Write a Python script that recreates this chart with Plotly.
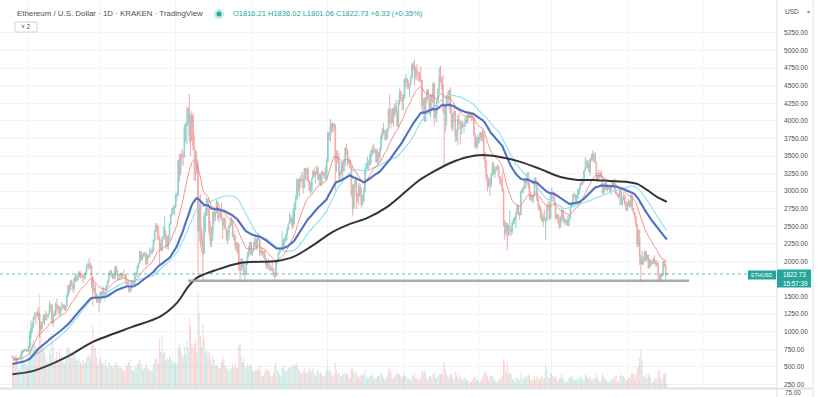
import plotly.graph_objects as go
import pandas as pd

# ---------------- data (ETH/USD daily, Kraken) ----------------
START = "2020-12-20"

# closes before the visible window (used only to warm up the moving averages)
warmup_closes = [
    353,346,347,353,353,341,341,351,365,370,375,387,381,379,377,366,368,377,379,368,392,413,409,412,406,393,404,388,386,382,386,
    396,383,387,402,415,455,435,454,444,449,462,462,475,461,448,460,481,479,471,509,549,560,608,604,569,518,517,538,575,614,
    587,598,616,570,596,601,592,568,573,559,545,568,590,586,589,636,642,654,659,
]

closes = [
    639,610,635,585,612,625,635,683,731,732,752,737,
    730,775,978,1041,1100,1208,1225,1224,1282,1262,1088,1045,1130,1218,1171,1233,1230,1257,1377,1382,1121,1236,1233,1392,1324,1357,1253,1332,1382,1377,1314,
    1369,1515,1660,1594,1719,1677,1614,1751,1769,1744,1783,1843,1814,1805,1779,1781,1848,1937,1960,1919,1935,1781,1570,1626,1475,1446,1459,1416,
    1565,1492,1575,1541,1533,1655,1724,1834,1869,1795,1825,1772,1924,1854,1791,1806,1823,1782,1817,1812,1782,1681,1669,1581,1587,1700,1716,1692,1818,1846,1918,
    1977,2143,2028,2093,2107,2114,1964,2079,2071,2136,2157,2139,2300,2432,2514,2423,2317,2235,2171,2332,2357,2403,2363,2212,2316,2534,2663,2746,2757,2772,
    2945,2950,3431,3253,3522,3490,3484,3903,3928,3952,4168,3785,3715,4079,3641,3587,3282,3374,2430,2783,2430,2295,2109,2643,2706,2888,2736,2419,2279,2387,2706,
    2634,2708,2855,2689,2630,2715,2592,2517,2608,2472,2353,2372,2508,2537,2585,2365,2373,2225,2160,2250,1891,1875,1970,1990,1812,1829,1978,2080,2160,2275,
    2113,2150,2226,2322,2198,2325,2315,2118,2146,2112,2141,2039,1940,1994,1917,1880,1898,1895,1820,1787,1995,2026,2122,2187,2190,2232,2300,2300,2385,2462,2535,
    2557,2606,2508,2725,2827,2890,3157,3013,3163,3142,3164,3048,3322,3265,3310,3146,3011,3017,3182,3286,3226,3243,3324,3172,3228,3100,3274,3243,3224,3228,3433,
    3834,3790,3940,3887,3952,3927,3429,3499,3427,3211,3270,3410,3286,3429,3614,3571,3398,3433,3329,2958,2764,3077,3155,2931,2925,3063,2934,2807,2853,3001,
    3307,3391,3418,3380,3518,3577,3587,3563,3576,3415,3542,3492,3606,3786,3864,3830,3848,3748,3878,4154,4057,3972,4170,4085,4217,4131,3924,4287,4414,4325,4288,
    4324,4586,4603,4537,4475,4518,4612,4805,4732,4636,4726,4668,4648,4624,4576,4214,4291,3995,4304,4437,4321,4103,4369,4272,4525,4043,4097,4295,4446,4631,
    4587,4519,4242,4100,4203,4358,4309,4435,4114,3909,4083,4133,3784,3862,4020,3962,3880,3961,3922,3941,4020,3982,4109,4045,4094,4063,4038,3798,3628,3713,3683,
    3769,3829,3762,3794,3550,3421,3197,3081,3157,3083,3239,3372,3246,3310,3331,3351,3212,3164,3096,3005,2558,2405,2540,2442,2460,2465,2421,2547,2597,2603,2688,
    2792,2680,2664,2990,3017,3058,3147,3124,3240,3074,2930,2919,2873,2931,3183,3125,2885,2780,2760,2620,2573,2641,2584,2593,2776,2775,2617,2920,
    2971,2948,2834,2617,2666,2554,2495,2577,2728,2608,2557,2567,2515,2590,2620,2773,2815,2945,2950,2858,2896,2970,3030,3110,3105,3145,3295,3332,3400,3385,3282,
    3457,3443,3520,3521,3412,3170,3233,3190,3262,3209,2980,3030,3120,3019,3043,3065,2990,3059,3102,3080,2987,2965,2934,2924,3006,2810,2888,2937,2819,2730,
    2825,2857,2780,2941,2748,2695,2636,2520,2244,2340,2072,1960,2014,2055,2148,2024,2090,1913,2018,1958,1975,2043,1972,1979,1943,1803,1726,1793,1812,1996,1942,
    1816.4,1822.73,
]

highs = [
    660,647,637,638,614,628,647,722,748,743,754,755,
    749,787,1010,1160,1136,1210,1280,1263,1300,1348,1266,1150,1140,1247,1250,1295,1268,1260,1440,1400,1385,1265,1300,1417,1475,1375,1365,1345,1430,1390,1390,
    1374,1540,1665,1680,1735,1744,1690,1780,1825,1825,1812,1870,1865,1826,1828,1817,1855,1958,1980,2040,1985,1950,1777,1708,1680,1555,1530,1468,
    1570,1570,1650,1623,1548,1665,1733,1840,1875,1870,1835,1840,1940,1930,1880,1815,1835,1843,1828,1880,1815,1815,1728,1740,1620,1710,1720,1733,1830,1860,1944,
    1990,2150,2145,2110,2128,2140,2130,2100,2095,2200,2167,2200,2315,2450,2545,2547,2497,2360,2300,2350,2495,2640,2450,2360,2380,2550,2680,2760,2790,2800,
    2970,2980,3450,3530,3540,3600,3560,3950,3980,4200,4200,4380,4090,4140,4100,3800,3580,3560,3440,2930,2950,2480,2380,2690,2750,2910,2890,2780,2570,2490,2720,
    2740,2740,2890,2860,2815,2745,2840,2620,2630,2620,2480,2445,2520,2600,2640,2590,2440,2380,2275,2280,2250,2040,2050,2040,2000,1890,1990,2130,2230,2280,
    2275,2160,2280,2390,2320,2350,2405,2320,2190,2190,2150,2165,2045,2010,2040,1965,1950,1990,1900,1850,2010,2035,2135,2200,2200,2430,2320,2345,2390,2470,2550,
    2700,2660,2630,2760,2840,2950,3180,3185,3185,3230,3275,3230,3330,3330,3330,3340,3160,3130,3190,3300,3340,3280,3370,3360,3250,3250,3290,3290,3275,3350,3470,
    3840,3840,4025,3970,3985,3970,3950,3580,3580,3540,3300,3420,3410,3460,3620,3680,3590,3480,3445,3360,3100,3100,3175,3150,2970,3120,3100,3050,2950,3050,
    3340,3400,3490,3440,3540,3600,3650,3680,3620,3610,3590,3560,3620,3820,3900,3970,3870,3890,3890,4180,4375,4170,4180,4185,4240,4300,4160,4300,4460,4430,4375,
    4390,4600,4670,4610,4580,4540,4640,4825,4840,4870,4780,4810,4705,4700,4775,4580,4330,4340,4340,4440,4460,4355,4390,4375,4550,4550,4180,4300,4460,4760,
    4780,4630,4650,4240,4230,4370,4420,4440,4480,4220,4110,4180,4140,3880,4090,4110,4000,4000,4000,3960,4060,4060,4130,4140,4120,4110,4125,4040,3830,3770,3810,
    3770,3850,3840,3880,3850,3550,3440,3240,3200,3190,3260,3420,3410,3340,3360,3380,3360,3220,3200,3270,3040,2595,2560,2480,2520,2730,2500,2580,2620,2640,2710,
    2810,2800,2700,3010,3040,3070,3190,3180,3270,3280,3120,2990,2950,2950,3190,3200,3140,2920,2810,2780,2720,2680,2740,2620,2800,2860,2830,2940,
    3050,3000,2980,2850,2670,2680,2640,2640,2760,2720,2640,2600,2600,2650,2660,2800,2840,2960,2980,2960,2950,3040,3040,3125,3180,3160,3300,3485,3440,3440,3445,
    3470,3530,3580,3545,3555,3410,3255,3300,3270,3300,3220,3070,3130,3130,3060,3085,3090,3070,3125,3170,3180,3030,2980,2960,3030,3030,2920,2980,2950,2860,
    2840,2890,2870,2960,2950,2760,2700,2640,2530,2460,2450,2100,2150,2070,2150,2150,2110,2100,2040,2030,2000,2050,2090,2010,2020,1990,1820,1810,1825,2015,2020,
    1970,1836.02,
]

lows = [
    625,600,590,568,580,600,612,634,680,706,715,717,
    716,714,770,900,985,1060,1170,1100,1207,1170,917,1000,1030,1128,1090,1163,1160,1200,1250,1285,1110,1065,1230,1230,1280,1260,1220,1250,1300,1330,1305,
    1295,1360,1500,1540,1590,1642,1550,1580,1710,1710,1724,1770,1760,1765,1690,1730,1750,1820,1900,1880,1885,1620,1370,1545,1465,1410,1418,1290,
    1415,1460,1490,1505,1440,1525,1635,1690,1820,1775,1750,1740,1750,1840,1730,1745,1730,1760,1765,1805,1740,1670,1640,1570,1550,1588,1670,1667,1680,1775,1778,
    1908,1970,2010,2015,2060,2062,1935,1960,2040,2060,2105,2100,2135,2270,2420,2300,2300,1950,2150,2140,2320,2300,2180,2180,2160,2295,2520,2640,2680,2660,
    2765,2860,2930,3140,3220,3390,3360,3480,3700,3660,3930,3690,3500,3715,3580,3150,3150,3250,1740,2280,2200,2130,1730,2110,2410,2650,2640,2370,2200,2210,2300,
    2530,2570,2690,2580,2550,2610,2580,2320,2450,2450,2290,2240,2300,2480,2510,2340,2300,2180,2140,2110,1880,1705,1860,1900,1800,1720,1810,1950,2060,2100,
    2080,2080,2140,2210,2160,2175,2300,2080,2080,2090,2050,2020,1900,1880,1900,1860,1860,1860,1790,1720,1780,1960,1990,2110,2130,2170,2180,2200,2275,2300,2440,
    2540,2540,2450,2480,2530,2720,2880,2950,2920,3055,3130,2960,3040,3165,3140,3125,3000,2955,2980,3170,3200,3110,3240,3150,3090,3080,3060,3210,3170,3165,3160,
    3410,3720,3700,3830,3830,3850,3000,3270,3400,3150,3150,3230,3150,3280,3360,3510,3350,3380,3320,2920,2650,2740,3030,2750,2840,2800,2925,2760,2800,2845,
    2975,3260,3320,3290,3360,3400,3500,3540,3530,3410,3390,3380,3430,3580,3740,3800,3730,3710,3740,3850,3945,3890,3960,3910,4060,4100,3920,3900,4230,4270,4150,
    4150,4320,4480,4450,4450,4330,4515,4600,4715,4500,4590,4580,4560,4560,4540,4110,4090,3990,3985,4260,4290,4090,4050,4180,4260,3930,4030,3980,4270,4380,
    4540,4440,4120,3350,3850,3930,4240,4160,4100,3880,3840,3970,3700,3710,3650,3950,3670,3810,3900,3820,3920,3960,3960,4040,4040,4000,4010,3780,3620,3590,3620,
    3690,3720,3700,3720,3450,3330,3160,3000,3050,2930,3060,3220,3230,3190,3280,3300,3190,3100,3060,2990,2500,2310,2370,2160,2360,2380,2360,2390,2520,2530,2480,
    2670,2650,2590,2660,2970,2970,3030,3030,3100,3030,2870,2860,2850,2830,2920,3080,2860,2730,2710,2600,2560,2500,2580,2300,2560,2730,2580,2600,
    2860,2880,2790,2600,2600,2540,2460,2480,2580,2560,2520,2550,2510,2510,2500,2610,2780,2780,2920,2840,2830,2890,2940,3010,3080,3090,3120,3290,3330,3320,3260,
    3210,3430,3430,3400,3400,3150,3120,3180,3190,3200,2960,2950,3010,3010,3000,3020,2980,2950,3060,3040,2970,2950,2920,2890,2800,2800,2790,2870,2790,2720,
    2715,2790,2760,2770,2720,2670,2580,2500,2200,2210,1950,1700,1960,1950,2000,1990,2010,1900,1900,1920,1960,1965,1960,1930,1930,1720,1710,1730,1780,1800,1920,
    1750,1801.06,
]

volumes = [
    22,28,26,34,25,18,20,30,36,28,27,24,
    20,28,52,60,45,48,44,42,36,40,94,62,44,40,36,30,26,25,38,34,55,40,26,30,36,28,38,30,33,26,25,
    32,40,42,38,36,30,34,38,30,28,27,30,26,24,28,24,26,30,32,34,30,44,62,42,40,30,24,28,
    30,26,25,24,28,22,20,26,24,22,20,22,26,24,23,20,22,20,18,17,18,24,22,26,28,22,18,17,22,20,24,
    26,28,24,20,18,20,24,20,18,18,17,18,24,30,28,30,24,50,36,53,34,36,28,30,28,32,30,28,26,24,
    26,24,40,45,38,34,30,42,34,48,40,70,62,44,40,44,48,36,95,75,52,40,65,50,36,38,34,36,30,24,32,
    28,22,22,24,20,20,26,32,28,22,20,18,20,18,20,24,20,26,20,20,42,45,32,26,30,22,20,24,22,24,
    24,18,16,18,18,20,18,22,16,12,12,16,20,18,18,16,12,12,16,22,26,18,16,14,12,20,22,18,16,18,20,
    20,21,22,21,24,22,26,20,18,16,14,18,20,16,14,18,20,16,18,20,14,12,16,18,14,16,14,12,12,14,18,
    22,16,18,14,12,14,25,18,14,16,12,12,14,14,16,14,14,10,10,19,20,16,14,16,12,10,12,14,12,14,
    18,12,10,10,12,14,12,10,9,10,12,12,12,16,14,10,8,10,12,18,20,16,10,9,12,14,18,14,14,12,10,
    12,14,12,10,10,8,8,14,12,16,10,10,8,8,10,18,16,18,14,10,8,12,12,10,14,16,10,10,12,14,
    14,14,14,26,18,14,12,10,14,14,10,8,16,12,14,10,12,8,8,10,10,8,8,6,6,6,8,10,12,8,8,
    6,6,8,10,14,16,16,12,8,12,12,12,10,8,6,6,8,10,10,12,29,27,17,26,14,16,14,10,8,6,10,
    10,8,8,14,10,8,12,10,12,14,12,8,8,10,12,8,12,10,8,10,12,10,10,25,19,10,10,16,
    14,12,10,12,8,8,10,10,14,10,8,6,6,8,10,12,10,12,8,8,8,10,10,12,10,8,10,14,12,10,10,
    12,8,8,10,10,14,10,8,6,8,14,12,10,8,6,6,8,8,8,10,12,12,6,6,12,14,12,12,10,8,
    8,10,10,14,16,14,10,14,20,22,30,38,29,12,10,14,10,14,12,10,6,6,10,8,10,16,18,10,8,14,14,
    16,4,
]

# 200-period EMA
ema200_dates = [
    "2020-12-20","2021-01-06","2021-02-02","2021-02-23","2021-03-27","2021-04-18","2021-05-02","2021-05-11",
    "2021-05-18","2021-06-03","2021-06-22","2021-07-22","2021-08-04","2021-08-18","2021-09-05","2021-09-19",
    "2021-10-03","2021-10-19","2021-10-29","2021-11-12","2021-11-25","2021-12-09","2021-12-23","2022-01-04",
    "2022-01-18","2022-02-03","2022-02-19","2022-03-08","2022-03-22","2022-04-04","2022-04-17","2022-05-01",
    "2022-05-09","2022-05-17","2022-05-25","2022-06-02",
]
ema200_values = [
    395,444,643,856,1069,1211,1411,1638,
    1766,1880,1979,2008,2065,2207,2420,2534,
    2619,2776,2918,3131,3273,3401,3487,3515,
    3487,3420,3320,3202,3160,3160,3145,3131,
    3103,3017,2918,2847,
]

price_ticks = [250,500,750,1000,1250,1500,2000,2250,2500,2750,3000,3250,3500,3750,4000,4250,4500,4750,5000,5250]
month_grid = ["2021-01-01","2021-03-01","2021-05-01","2021-07-01","2021-09-01","2021-11-01",
              "2022-01-01","2022-03-01","2022-05-01","2022-07-01"]
last_price = 1822.73
support_level = 1725
support_span = ["2021-05-11", "2022-06-20"]
title_text = "Ethereum / U.S. Dollar · 1D · KRAKEN · TradingView"
ohlc_text = "O1816.21 H1836.02 L1801.06 C1822.73 +6.33 (+0.35%)"

# ---------------- build ----------------
n = len(closes)
assert len(highs) == n and len(lows) == n and len(volumes) == n, (n, len(highs), len(lows), len(volumes))
dates = pd.date_range(START, periods=n, freq="D")
opens = [warmup_closes[-1]] + closes[:-1]
hi = [max(h, o, c) for h, o, c in zip(highs, opens, closes)]
lo = [min(l, o, c) for l, o, c in zip(lows, opens, closes)]

allc = pd.Series(warmup_closes + closes, dtype=float)
ema20 = allc.ewm(span=20, adjust=False).mean().iloc[-n:].values
ema50 = allc.ewm(span=50, adjust=False).mean().iloc[-n:].values
sma50 = allc.rolling(50).mean().iloc[-n:].values

UP = "38,166,154"
DN = "239,83,80"
vol_colors = [f"rgba({UP},0.26)" if c >= o else f"rgba({DN},0.28)" for o, c in zip(opens, closes)]

W, H = 819, 397
PW, PH = 777, 388   # plot area (pane) size in px

def px(x):
    return x / PW

def py(y):
    return 1 - y / PH

fig = go.Figure()
fig.add_trace(go.Bar(x=dates, y=volumes, yaxis="y2", marker=dict(color=vol_colors, line=dict(width=0)),
                     hoverinfo="skip", showlegend=False))
fig.add_trace(go.Candlestick(
    x=dates, open=opens, high=hi, low=lo, close=closes,
    increasing=dict(line=dict(color=f"rgb({UP})", width=1), fillcolor=f"rgb({UP})"),
    decreasing=dict(line=dict(color=f"rgb({DN})", width=1), fillcolor=f"rgb({DN})"),
    opacity=0.5, showlegend=False, hoverinfo="skip"))
fig.add_trace(go.Scatter(x=dates, y=sma50, mode="lines", line=dict(color="#93e4f0", width=1.2),
                         showlegend=False, hoverinfo="skip"))
fig.add_trace(go.Scatter(x=dates, y=ema20, mode="lines", line=dict(color="rgba(240,112,100,0.75)", width=1),
                         showlegend=False, hoverinfo="skip"))
fig.add_trace(go.Scatter(x=dates, y=ema50, mode="lines", line=dict(color="#5270c2", width=2.1),
                         showlegend=False, hoverinfo="skip"))
fig.add_trace(go.Scatter(x=pd.to_datetime(ema200_dates), y=ema200_values, mode="lines",
                         line=dict(color="#30333b", width=2, shape="spline", smoothing=0.8),
                         showlegend=False, hoverinfo="skip"))

TEAL = "#26a69a"
shapes = [
    dict(type="line", xref="x", yref="y", x0=support_span[0], x1=support_span[1],
         y0=support_level, y1=support_level, line=dict(color="rgba(160,162,170,0.9)", width=2.5)),
    dict(type="line", xref="paper", yref="y", x0=0, x1=1, y0=last_price, y1=last_price,
         line=dict(color="rgba(38,166,154,0.7)", width=1, dash="dot")),
    dict(type="line", xref="paper", yref="paper", x0=1, x1=1, y0=py(397), y1=1,
         line=dict(color="#e0e3eb", width=1)),
    dict(type="line", xref="paper", yref="paper", x0=px(813), x1=px(813), y0=py(397), y1=1,
         line=dict(color="#e0e3eb", width=1)),
    dict(type="line", xref="paper", yref="paper", x0=0, x1=px(813), y0=py(388.5), y1=py(388.5),
         line=dict(color="#dfe1e7", width=2)),
    dict(type="circle", xref="paper", yref="paper", x0=px(214), x1=px(224), y0=py(19), y1=py(9),
         fillcolor="rgba(38,166,154,0.25)", line=dict(width=0)),
    dict(type="circle", xref="paper", yref="paper", x0=px(216.5), x1=px(221.5), y0=py(16.5), y1=py(11.5),
         fillcolor=TEAL, line=dict(width=0)),
    dict(type="rect", xref="paper", yref="paper", x0=px(15), x1=px(37), y0=py(32), y1=py(22),
         fillcolor="white", line=dict(color="#d1d4dc", width=1)),
    dict(type="rect", xref="paper", yref="paper", x0=px(748), x1=px(776), y0=py(279.5), y1=py(270.5),
         fillcolor=TEAL, line=dict(width=0), layer="above"),
    dict(type="rect", xref="paper", yref="paper", x0=px(777), x1=px(811), y0=py(287.5), y1=py(269.5),
         fillcolor=TEAL, line=dict(width=0), layer="above"),
]

FONT = "Liberation Sans"
annotations = [
    dict(text=title_text, x=px(15), y=py(14), font=dict(size=7.9, color="#4a4d57", family=FONT)),
    dict(text=ohlc_text, x=px(231), y=py(14), font=dict(size=7.5, color=TEAL, family=FONT)),
    dict(text="˅ 2", x=px(18.5), y=py(27), font=dict(size=6.5, color="#4a4d57", family=FONT)),
    dict(text="USD", x=px(783), y=py(11), font=dict(size=6.5, color="#4a4d57", family=FONT)),
    dict(text="▾", x=px(805), y=py(11), font=dict(size=6, color="#888", family="DejaVu Sans")),
    dict(text="ETHUSD", x=px(762), y=py(275), xanchor="center", font=dict(size=5.2, color="white", family=FONT)),
    dict(text="1822.73", x=px(781), y=py(274.5), font=dict(size=6.3, color="white", family=FONT)),
    dict(text="15:57:39", x=px(781), y=py(283), font=dict(size=6.3, color="white", family=FONT)),
    dict(text="75.00", x=px(783), y=py(392), font=dict(size=6.3, color="#4a4d57", family=FONT)),
]
for a in annotations:
    a.setdefault("xanchor", "left")
    a.update(xref="paper", yref="paper", yanchor="middle", showarrow=False)

fig.update_layout(
    width=W, height=H,
    margin=dict(l=0, r=W - PW, t=0, b=H - PH),
    paper_bgcolor="white", plot_bgcolor="white",
    showlegend=False, hovermode=False, bargap=0.25,
    shapes=shapes, annotations=annotations,
    xaxis=dict(type="date", range=["2020-12-10", "2022-08-30"], rangeslider=dict(visible=False),
               tickvals=month_grid, showticklabels=False, showgrid=True, gridcolor="#f2f3f7",
               zeroline=False, showline=False, ticks=""),
    yaxis=dict(range=[200, 5719], side="right", tickvals=price_ticks,
               ticktext=[f"{v:.2f}" for v in price_ticks], showgrid=True, gridcolor="#f2f3f7",
               zeroline=False, showline=False, ticks="", ticklabelstandoff=6,
               tickfont=dict(size=6.6, color="#4a4d57", family=FONT)),
    yaxis2=dict(range=[0, PH], overlaying="y", visible=False, fixedrange=True),
)

fig.write_html("out.html", config={"displayModeBar": False, "staticPlot": True},
               post_script="document.body.style.margin='0px';document.body.style.overflow='hidden';")
